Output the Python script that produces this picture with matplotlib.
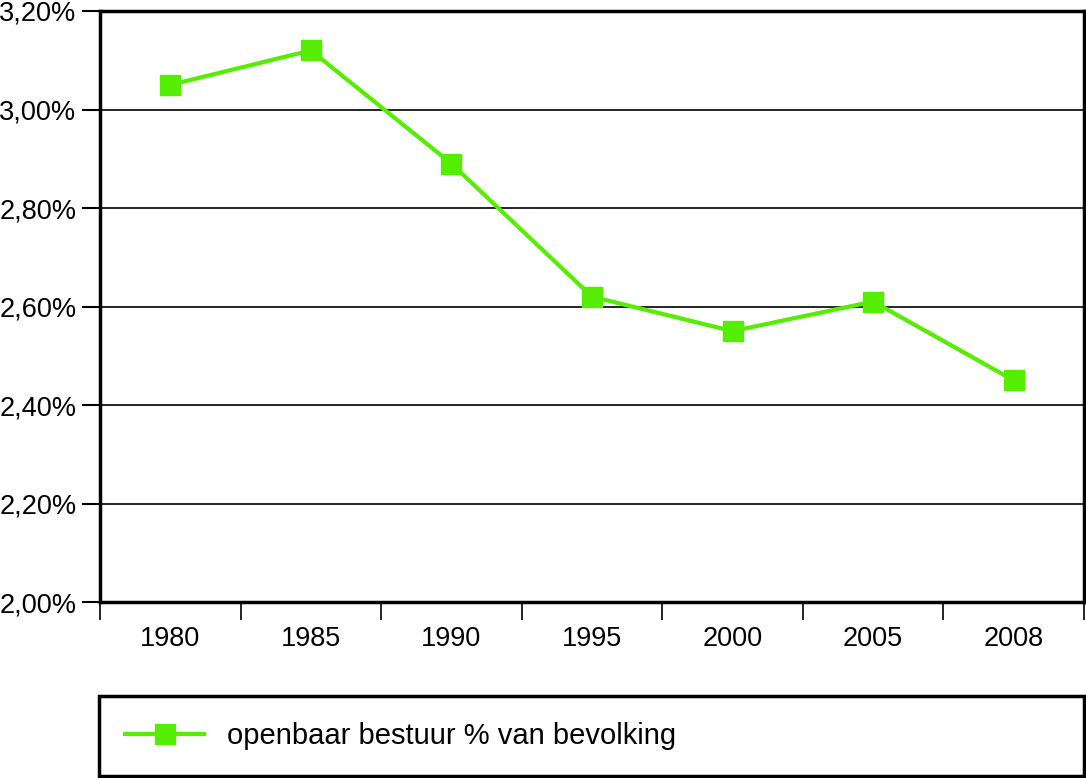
import matplotlib
matplotlib.use("Agg")
import matplotlib.pyplot as plt
from matplotlib.ticker import FixedLocator, FuncFormatter

years = ["1980", "1985", "1990", "1995", "2000", "2005", "2008"]
values = [3.05, 3.12, 2.89, 2.62, 2.55, 2.61, 2.45]
series_label = "openbaar bestuur % van bevolking"
y_ticks = [2.0, 2.2, 2.4, 2.6, 2.8, 3.0, 3.2]

plt.rcParams['font.family'] = ['Liberation Sans', 'DejaVu Sans']

W, H = 1086, 778
fig = plt.figure(figsize=(W / 100, H / 100), dpi=100)
ax = fig.add_axes([100 / W, 1 - 602 / H, 984 / W, 591 / H])

green = "#55EE00"
x = list(range(len(years)))
line, = ax.plot(x, values, color=green, lw=3, marker="s", markersize=14,
                markerfacecolor=green, markeredgecolor=green, label=series_label,
                zorder=3)

ax.set_xlim(-0.5, len(years) - 0.5)
ax.set_ylim(2.0, 3.2)

# y axis
ax.yaxis.set_major_locator(FixedLocator(y_ticks))
ax.yaxis.set_major_formatter(FuncFormatter(lambda v, p: f"{v:.2f}".replace(".", ",") + "%"))
ax.tick_params(axis="y", length=13, width=1.5, direction="out", labelsize=19.5, pad=4)
ax.grid(axis="y", color="black", lw=1.2)

# x axis: ticks at boundaries, labels at centers
ax.xaxis.set_major_locator(FixedLocator([i - 0.5 for i in range(len(years) + 1)]))
ax.xaxis.set_major_formatter(FuncFormatter(lambda v, p: ""))
ax.xaxis.set_minor_locator(FixedLocator(x))
ax.set_xticklabels(years, minor=True)
ax.tick_params(axis="x", which="major", length=13, width=1.2, direction="out")
ax.tick_params(axis="x", which="minor", length=0, labelsize=19.5, pad=17)

for s in ax.spines.values():
    s.set_color("black")
    s.set_linewidth(2.5)

leg = fig.legend(handles=[line], labels=[series_label],
                 bbox_to_anchor=(99 / W, 1 - 775 / H, 985 / W, 78 / H),
                 loc="center left", mode="expand", borderaxespad=0,
                 fontsize=21, frameon=True, fancybox=False, shadow=False,
                 framealpha=1, borderpad=0.9, handlelength=2.7, handletextpad=0.8)
leg.get_frame().set_edgecolor("black")
leg.get_frame().set_linewidth(2.5)

fig.savefig("out.png", dpi=100)
